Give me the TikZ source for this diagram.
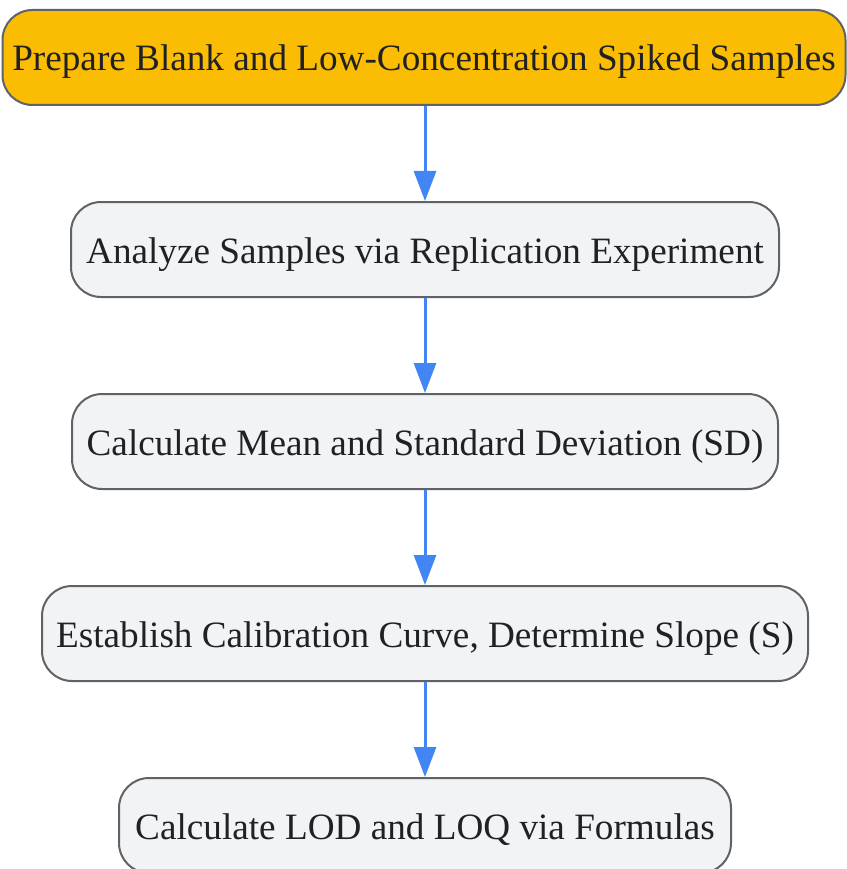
\documentclass[tikz,border=0pt]{standalone}
\usepackage{fontspec}
\setmainfont{Liberation Serif}
\usetikzlibrary{arrows.meta}
\definecolor{boxfill}{HTML}{F1F3F4}
\definecolor{boxedge}{HTML}{5F6368}
\definecolor{topfill}{HTML}{FBBC04}
\definecolor{txt}{HTML}{202124}
\definecolor{arrowc}{HTML}{4285F4}
\tikzset{
  stepbox/.style={draw=boxedge, line width=2pt, fill=boxfill, rounded corners=30pt,
    minimum height=95pt, inner sep=0pt, text height=30pt, text depth=3pt, text=txt,
    font=\fontsize{37.2pt}{42pt}\selectfont},
  topbox/.style={stepbox, fill=topfill},
  flow/.style={draw=arrowc, line width=3pt, -{Triangle[length=30pt,width=22pt]}}
}
\begin{document}
\begin{tikzpicture}[x=1pt,y=-1pt]
\useasboundingbox (0,0) rectangle (846,869);
\node[topbox, minimum width=843pt] (n1) at (424,57.5) {Prepare Blank and Low-Concentration Spiked Samples};
\node[stepbox, minimum width=708pt] (n2) at (425,249.5) {Analyze Samples via Replication Experiment};
\node[stepbox, minimum width=706pt] (n3) at (425,441.5) {Calculate Mean and Standard Deviation (SD)};
\node[stepbox, minimum width=766pt] (n4) at (425,633.5) {Establish Calibration Curve, Determine Slope (S)};
\node[stepbox, minimum width=612pt] (n5) at (425,825.5) {Calculate LOD and LOQ via Formulas};
\draw[flow] (n1.south -| n2.north) -- (n2.north);
\draw[flow] (n2.south) -- (n3.north);
\draw[flow] (n3.south) -- (n4.north);
\draw[flow] (n4.south) -- (n5.north);
\end{tikzpicture}
\end{document}
